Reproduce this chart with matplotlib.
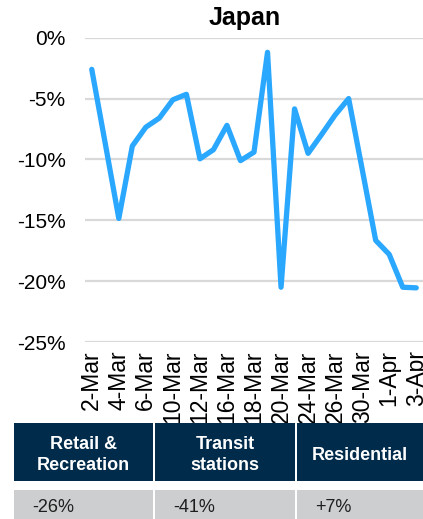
import matplotlib
matplotlib.use("Agg")
import matplotlib.pyplot as plt
from matplotlib.patches import Rectangle
from matplotlib.ticker import FuncFormatter

plt.rcParams['font.family'] = ['Liberation Sans', 'DejaVu Sans']

dates = ["2-Mar", "3-Mar", "4-Mar", "5-Mar", "6-Mar", "9-Mar", "10-Mar", "11-Mar", "12-Mar",
         "13-Mar", "16-Mar", "17-Mar", "18-Mar", "19-Mar", "20-Mar", "23-Mar", "24-Mar",
         "25-Mar", "26-Mar", "27-Mar", "30-Mar", "31-Mar", "1-Apr", "2-Apr", "3-Apr"]
values = [-2.6, -8.7, -14.85, -8.9, -7.35, -6.6, -5.1, -4.65, -9.95, -9.2, -7.2, -10.1,
          -9.4, -1.2, -20.5, -5.85, -9.5, -7.95, -6.35, -5.0, -10.8, -16.65, -17.8,
          -20.5, -20.55]
tick_labels = dates[::2]

table_headers = ["Retail &\nRecreation", "Transit\nstations", "Residential"]
table_values = ["-26%", "-41%", "+7%"]

W, H = 423, 519
fig = plt.figure(figsize=(W / 100, H / 100), dpi=100)

def fx(px):
    return px / W

def fy(py):
    return 1 - py / H

ax = fig.add_axes([fx(85), fy(342), fx(423) - fx(85), fy(37.7) - fy(342)])
x = list(range(len(dates)))
ax.plot(x, values, color="#2AA7FF", lw=3.8, solid_joinstyle="round",
        solid_capstyle="round", zorder=3, clip_on=False)
ax.set_xlim(-0.5, len(dates) - 0.5)
ax.set_ylim(-25, 0)
ax.set_yticks([0, -5, -10, -15, -20, -25])
ax.yaxis.set_major_formatter(FuncFormatter(lambda v, p: f"{int(round(v))}%"))
ax.set_xticks(x[::2])
ax.set_xticklabels(tick_labels, rotation=90, fontsize=16.5)
ax.tick_params(axis="y", length=0, pad=14, labelsize=15)
ax.tick_params(axis="x", length=0, pad=6)
ax.grid(axis="y", color="#D9D9D9", lw=1.6, zorder=0)
ax.set_axisbelow(True)
for s in ax.spines.values():
    s.set_visible(False)

fig.text(fx(245), fy(18), "Japan", ha="center", va="center", fontsize=18,
         fontweight="bold", color="black")

navy = "#002B4B"
grey = "#CDCED0"
cells = [(14, 153), (155, 295), (297, 423)]
text_x = [32, 173, 315]
for (x0, x1), head, val, tx in zip(cells, table_headers, table_values, text_x):
    fig.add_artist(Rectangle((fx(x0), fy(481)), fx(x1) - fx(x0), fy(422.7) - fy(481),
                             transform=fig.transFigure, facecolor=navy,
                             edgecolor="none", zorder=5))
    fig.add_artist(Rectangle((fx(x0), fy(519)), fx(x1) - fx(x0), fy(490) - fy(519),
                             transform=fig.transFigure, facecolor=grey,
                             edgecolor="none", zorder=5))
    fig.text(fx((x0 + x1) / 2), fy(455), head, ha="center", va="center",
             fontsize=13, fontweight="bold", color="white", zorder=6,
             linespacing=1.3)
    fig.text(fx(tx), fy(508), val, ha="left", va="center", fontsize=13,
             color="#1E1E1E", zorder=6)

fig.savefig("out.png", dpi=100)
